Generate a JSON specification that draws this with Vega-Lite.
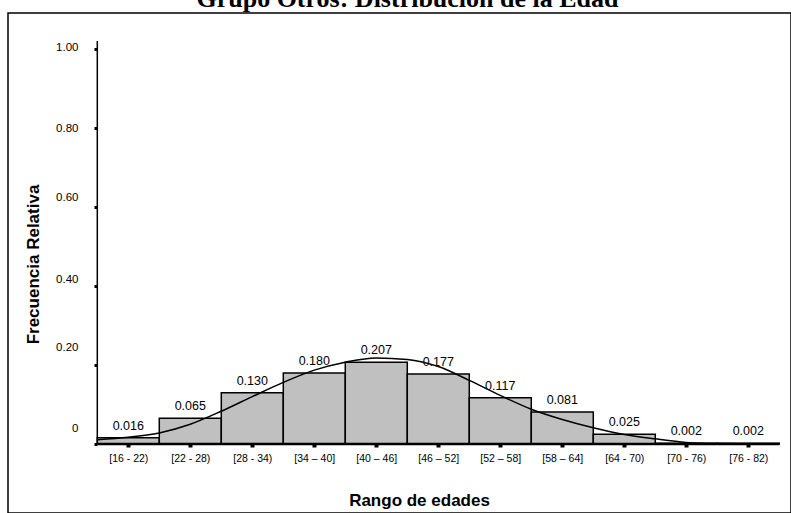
{
  "$schema": "https://vega.github.io/schema/vega-lite/v6.json",
  "autosize": "none",
  "width": 783,
  "height": 500,
  "padding": {"left": 8, "top": 13, "right": 0, "bottom": 0},
  "background": "white",
  "title": {
    "text": "Grupo Otros: Distribución de la Edad",
    "font": "Liberation Serif",
    "fontSize": 26,
    "fontWeight": "bold",
    "color": "black",
    "anchor": "middle",
    "frame": "group",
    "baseline": "alphabetic",
    "offset": -20,
    "dx": 8
  },
  "config": {
    "view": {"stroke": "black", "strokeWidth": 1.5},
    "axis": {"grid": false}
  },
  "datasets": {
    "barras": [
      {"rango": "[16 - 22)", "desde": 16, "hasta": 22, "medio": 19, "frec": 0.016},
      {"rango": "[22 - 28)", "desde": 22, "hasta": 28, "medio": 25, "frec": 0.065},
      {"rango": "[28 - 34)", "desde": 28, "hasta": 34, "medio": 31, "frec": 0.130},
      {"rango": "[34 – 40]", "desde": 34, "hasta": 40, "medio": 37, "frec": 0.180},
      {"rango": "[40 – 46]", "desde": 40, "hasta": 46, "medio": 43, "frec": 0.207},
      {"rango": "[46 – 52]", "desde": 46, "hasta": 52, "medio": 49, "frec": 0.177},
      {"rango": "[52 – 58]", "desde": 52, "hasta": 58, "medio": 55, "frec": 0.117},
      {"rango": "[58 – 64]", "desde": 58, "hasta": 64, "medio": 61, "frec": 0.081},
      {"rango": "[64 - 70)", "desde": 64, "hasta": 70, "medio": 67, "frec": 0.025},
      {"rango": "[70 - 76)", "desde": 70, "hasta": 76, "medio": 73, "frec": 0.002},
      {"rango": "[76 - 82)", "desde": 76, "hasta": 82, "medio": 79, "frec": 0.002}
    ],
    "curva": [
      {"edad": 16, "densidad": 0.011},
      {"edad": 19, "densidad": 0.017},
      {"edad": 22, "densidad": 0.028},
      {"edad": 25, "densidad": 0.050},
      {"edad": 28, "densidad": 0.083},
      {"edad": 31, "densidad": 0.120},
      {"edad": 34, "densidad": 0.156},
      {"edad": 37, "densidad": 0.187},
      {"edad": 40, "densidad": 0.207},
      {"edad": 43, "densidad": 0.218},
      {"edad": 46, "densidad": 0.214},
      {"edad": 49, "densidad": 0.196},
      {"edad": 52, "densidad": 0.161},
      {"edad": 55, "densidad": 0.123},
      {"edad": 58, "densidad": 0.088},
      {"edad": 61, "densidad": 0.062},
      {"edad": 64, "densidad": 0.041},
      {"edad": 67, "densidad": 0.024},
      {"edad": 70, "densidad": 0.013},
      {"edad": 73, "densidad": 0.004},
      {"edad": 76, "densidad": 0.001},
      {"edad": 82, "densidad": 0.0}
    ]
  },
  "encoding": {
    "x": {
      "type": "quantitative",
      "scale": {"domain": [7.358, 83.135], "nice": false, "zero": false},
      "axis": {
        "orient": "bottom", "offset": -69, "zindex": 2,
        "values": [19, 25, 31, 37, 43, 49, 55, 61, 67, 73, 79],
        "domain": false, "tickSize": 3, "tickWidth": 4, "tickColor": "black",
        "labelExpr": "['[16 - 22)','[22 - 28)','[28 - 34)','[34 – 40]','[40 – 46]','[46 – 52]','[52 – 58]','[58 – 64]','[64 - 70)','[70 - 76)','[76 - 82)'][round((datum.value - 19) / 6)]",
        "labelFont": "Liberation Sans", "labelFontSize": 10.5, "labelColor": "black",
        "labelPadding": 6, "labelFlush": false, "labelOverlap": false,
        "title": "Rango de edades", "titleFont": "Liberation Sans", "titleFontSize": 17,
        "titleFontWeight": "bold", "titleColor": "black",
        "titleX": 411, "titleY": 61, "titleBaseline": "alphabetic"
      }
    },
    "y": {
      "type": "quantitative",
      "scale": {"domain": [-0.17468, 1.09114], "nice": false, "zero": false},
      "axis": {
        "orient": "left", "offset": -89, "zindex": 2,
        "values": [0, 0.2, 0.4, 0.6, 0.8, 1],
        "domain": false, "tickSize": 3, "tickWidth": 3, "tickColor": "black",
        "labelExpr": "datum.value == 0 ? '0' : format(datum.value, '.2f')",
        "labelFont": "Liberation Sans", "labelFontSize": 11.5, "labelColor": "black",
        "labelPadding": 16,
        "labelOffset": {"expr": "datum.value < 0.1 ? -16 : datum.value < 0.3 ? -18 : datum.value < 0.5 ? -7 : datum.value < 0.7 ? -10 : datum.value < 0.9 ? 0 : -2"},
        "title": "Frecuencia Relativa", "titleFont": "Liberation Sans", "titleFontSize": 17,
        "titleFontWeight": "bold", "titleColor": "black", "titleAngle": -90,
        "titleX": -59, "titleY": 251, "titleBaseline": "alphabetic"
      }
    }
  },
  "layer": [
    {
      "data": {"name": "barras"},
      "mark": {"type": "bar", "fill": "#c0c0c0", "stroke": "black", "strokeWidth": 1.5},
      "encoding": {
        "x": {"field": "desde"},
        "x2": {"field": "hasta"},
        "y": {"field": "frec"},
        "y2": {"datum": 0}
      }
    },
    {
      "data": {"name": "barras"},
      "mark": {"type": "text", "font": "Liberation Sans", "fontSize": 12.5, "color": "black", "baseline": "alphabetic", "dy": -8},
      "encoding": {
        "x": {"field": "medio"},
        "y": {"field": "frec"},
        "text": {"field": "frec", "type": "quantitative", "format": ".3f"}
      }
    },
    {
      "data": {"name": "curva"},
      "mark": {"type": "line", "color": "black", "strokeWidth": 1.5, "interpolate": "monotone"},
      "encoding": {
        "x": {"field": "edad"},
        "y": {"field": "densidad"}
      }
    },
    {
      "data": {"values": [{}]},
      "mark": {"type": "rule", "color": "black", "strokeWidth": 1.5},
      "encoding": {
        "x": {"datum": 16},
        "y": {"datum": 0},
        "y2": {"datum": 1.02}
      }
    },
    {
      "data": {"values": [{}]},
      "mark": {"type": "rule", "color": "black", "strokeWidth": 2.5},
      "encoding": {
        "x": {"datum": 16},
        "x2": {"datum": 82},
        "y": {"datum": 0}
      }
    }
  ]
}
